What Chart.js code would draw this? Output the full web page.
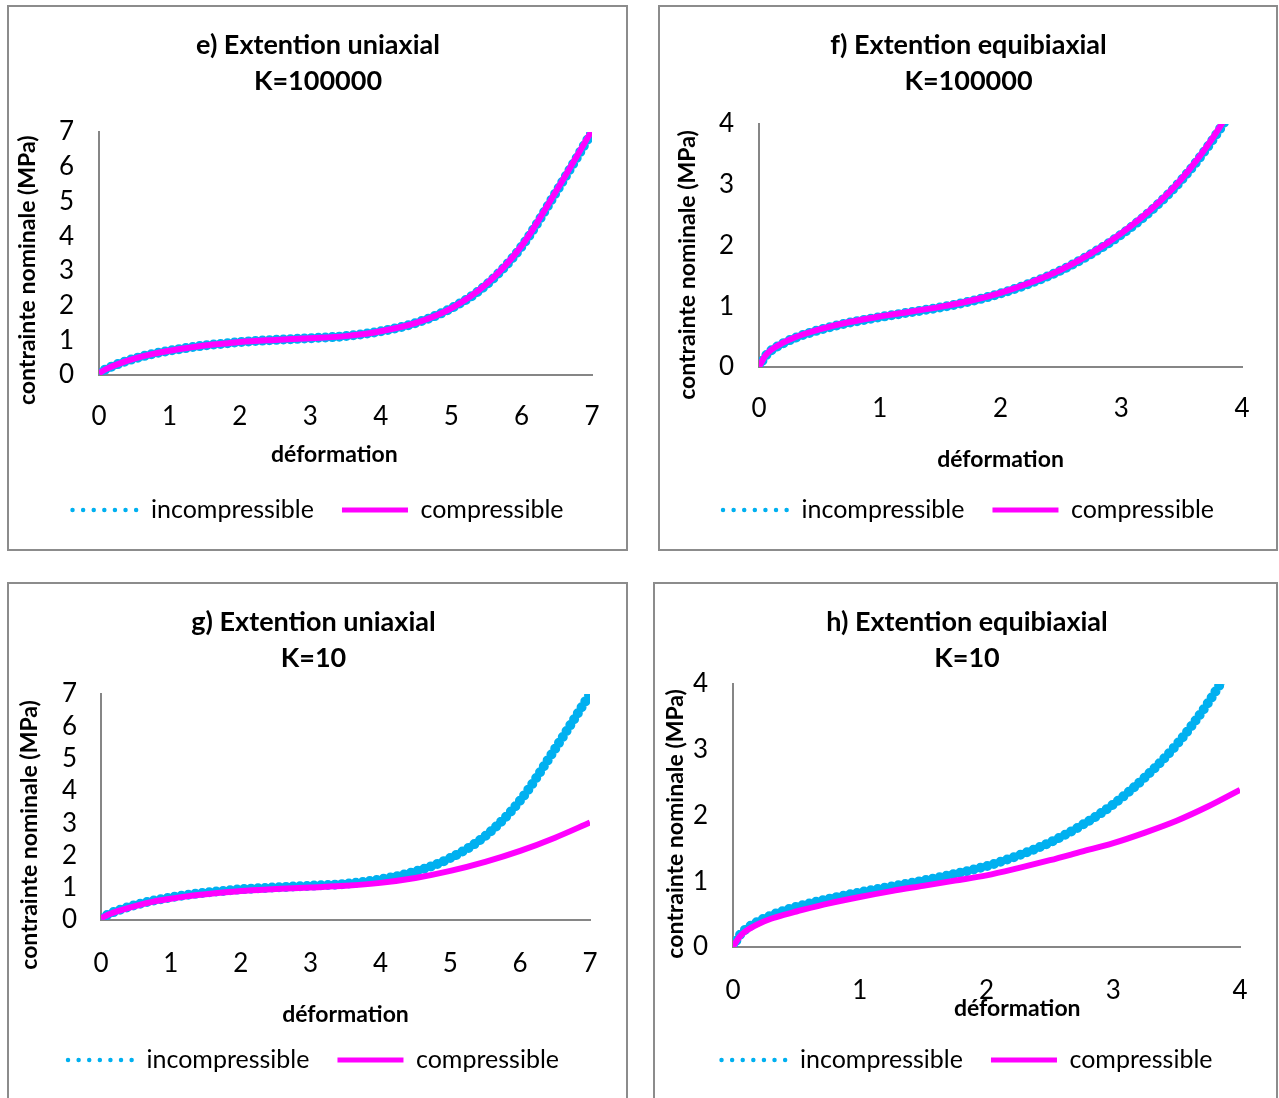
<!DOCTYPE html>
<html>
<head>
<meta charset="utf-8">
<script src="https://cdn.jsdelivr.net/npm/chart.js@4.4.1/dist/chart.umd.min.js"></script>
<style>
  body { margin: 0; background: #fff; width: 1279px; height: 1098px; overflow: hidden; position: relative; }
  .panel { position: absolute; border: 2px solid #8c8c8c; box-sizing: border-box; background: #fff; }
  .panel canvas { display: block; }
</style>
</head>
<body>
<div class="panel" style="left:7px;top:5px;width:621px;height:546px"><canvas id="chartE" width="617" height="542"></canvas></div>
<div class="panel" style="left:658px;top:5px;width:620px;height:546px"><canvas id="chartF" width="616" height="542"></canvas></div>
<div class="panel" style="left:7px;top:582px;width:621px;height:530px"><canvas id="chartG" width="617" height="526"></canvas></div>
<div class="panel" style="left:653px;top:582px;width:625px;height:530px"><canvas id="chartH" width="621" height="526"></canvas></div>
<script>
// deformation values (x)
const strainUni = [0, 0.1, 0.25, 0.5, 0.75, 1, 1.25, 1.5, 1.75, 2, 2.5, 3, 3.5, 4, 4.5, 5, 5.5, 6, 6.5, 7];
const strainBi = [0, 0.05, 0.1, 0.2, 0.3, 0.4, 0.5, 0.75, 1, 1.25, 1.5, 1.75, 2, 2.25, 2.5, 2.75, 3, 3.25, 3.5, 3.75, 4];

// e) uniaxial, K=100000
const uniIncK100000 = [0.05, 0.17, 0.3, 0.47, 0.6, 0.7, 0.78, 0.85, 0.9, 0.95, 1.01, 1.06, 1.12, 1.26, 1.5, 1.92, 2.6, 3.7, 5.3, 7.0];
const uniCompK100000 = [0.05, 0.17, 0.3, 0.47, 0.6, 0.7, 0.78, 0.85, 0.9, 0.95, 1.01, 1.06, 1.12, 1.26, 1.5, 1.92, 2.62, 3.72, 5.33, 7.05];

// f) equibiaxial, K=100000
const biIncK100000 = [0, 0.17, 0.27, 0.39, 0.48, 0.55, 0.61, 0.73, 0.82, 0.9, 0.98, 1.08, 1.21, 1.38, 1.59, 1.86, 2.18, 2.58, 3.08, 3.72, 4.5];
const biCompK100000 = [0, 0.18, 0.28, 0.4, 0.49, 0.56, 0.62, 0.74, 0.83, 0.91, 0.99, 1.09, 1.22, 1.39, 1.6, 1.87, 2.2, 2.6, 3.1, 3.75, 4.55];

// g) uniaxial, K=10
const uniIncK10 = [0.05, 0.17, 0.3, 0.47, 0.6, 0.7, 0.78, 0.85, 0.9, 0.95, 1.01, 1.06, 1.12, 1.26, 1.5, 1.92, 2.6, 3.7, 5.3, 7.0];
const uniCompK10 = [0.05, 0.16, 0.28, 0.44, 0.57, 0.66, 0.74, 0.8, 0.85, 0.9, 0.96, 1.01, 1.06, 1.15, 1.3, 1.52, 1.8, 2.14, 2.55, 3.02];

// h) equibiaxial, K=10
const biIncK10 = [0, 0.17, 0.27, 0.39, 0.48, 0.55, 0.61, 0.73, 0.83, 0.92, 1.01, 1.11, 1.23, 1.39, 1.59, 1.85, 2.17, 2.58, 3.08, 3.72, 4.5];
const biCompK10 = [0, 0.15, 0.24, 0.35, 0.43, 0.49, 0.54, 0.66, 0.76, 0.85, 0.93, 1.01, 1.09, 1.2, 1.32, 1.45, 1.58, 1.74, 1.92, 2.14, 2.39];

// tick labels
const uniTicks = [0, 1, 2, 3, 4, 5, 6, 7];
const biTicks = [0, 1, 2, 3, 4];

const seriesNames = ['incompressible', 'compressible'];
const xTitle = 'déformation';
const yTitle = 'contrainte nominale (MPa)';

Chart.defaults.color = '#000';
Chart.defaults.font.family = 'Lato';

const FONT = 'Lato';
const titleFont = { family: FONT, size: 27, weight: 'bold', lineHeight: 36 / 27 };
const tickFont = { family: FONT, size: 26, lineHeight: 1.2 };
const axisFont = { family: FONT, size: 23, weight: 'bold', lineHeight: 1.2 };
const legendFont = { family: FONT, size: 25 };
const AXIS = '#868686';
const LEGEND_GAP = 28;

function pairs(xs, ys) {
  return xs.map((x, i) => ({ x: x, y: ys[i] }));
}

// lay: target pixel positions inside the canvas
function makeChart(id, lay, title, xs, inc, comp, ticks) {
  const LT = titleFont.size * titleFont.lineHeight;
  const LS = tickFont.size * tickFont.lineHeight;
  const LA = axisFont.size * axisFont.lineHeight;
  const L = legendFont.size;
  const tTop = lay.titleY - LT / 2;
  const tBottom = lay.plotTop - tTop - 2 * LT;
  const tickPad = lay.tickY - lay.plotBottom - LS / 2;
  // scale height counts the tick padding twice
  const xtTop = lay.xTitleY - lay.plotBottom - 2 * tickPad - LS - LA / 2;
  const xtBottom = lay.legendY - lay.xTitleY - LA / 2 - L / 2 - LEGEND_GAP;
  const xBottom = lay.xTitleY + LA / 2 + xtBottom;
  const padBottom = lay.H - (xBottom + L + LEGEND_GAP + 10);
  const tickMax = ticks[ticks.length - 1];

  new Chart(document.getElementById(id), {
    type: 'line',
    data: {
      datasets: [{
        label: seriesNames[0],
        data: pairs(xs, inc),
        borderColor: '#00b0f0',
        backgroundColor: '#00b0f0',
        borderWidth: 10,
        borderDash: [0, 7],
        borderCapStyle: 'round',
        pointRadius: 0,
        cubicInterpolationMode: 'monotone',
        order: 1
      }, {
        label: seriesNames[1],
        data: pairs(xs, comp),
        borderColor: '#ff00ff',
        backgroundColor: '#ff00ff',
        borderWidth: 6,
        borderJoinStyle: 'round',
        pointRadius: 0,
        cubicInterpolationMode: 'monotone',
        order: 0
      }]
    },
    options: {
      responsive: false,
      animation: false,
      devicePixelRatio: 1,
      events: [],
      layout: { padding: { left: lay.padLeft, top: 0, right: lay.W - lay.plotRight, bottom: padBottom } },
      plugins: {
        tooltip: { enabled: false },
        title: {
          display: true,
          text: title,
          font: titleFont,
          color: '#000',
          padding: { top: tTop, bottom: tBottom }
        },
        legend: {
          position: 'bottom',
          labels: {
            usePointStyle: true,
            pointStyle: 'line',
            pointStyleWidth: 66,
            padding: LEGEND_GAP,
            font: legendFont,
            color: '#000',
            sort: (a, b) => a.datasetIndex - b.datasetIndex,
            generateLabels: chart => {
              const items = Chart.defaults.plugins.legend.labels.generateLabels(chart);
              items.forEach(it => {
                if (it.datasetIndex === 0) {
                  it.lineWidth = 4.5;
                  it.lineDash = [0, 10.6];
                  it.lineCap = 'round';
                } else {
                  it.lineWidth = 5;
                  it.lineDash = [];
                  it.lineCap = 'butt';
                }
              });
              return items;
            }
          }
        }
      },
      scales: {
        x: {
          type: 'linear',
          min: 0,
          max: tickMax,
          afterBuildTicks: s => { s.ticks = ticks.map(v => ({ value: v })); },
          grid: { display: false, drawTicks: false },
          border: { display: true, color: AXIS, width: 2 },
          ticks: { font: tickFont, color: '#000', padding: tickPad, maxRotation: 0, autoSkip: false },
          title: {
            display: true,
            text: ' '.repeat(lay.xPre) + xTitle + ' '.repeat(lay.xPost),
            font: axisFont,
            color: '#000',
            padding: { top: xtTop, bottom: xtBottom }
          }
        },
        y: {
          type: 'linear',
          min: 0,
          max: tickMax,
          afterBuildTicks: s => { s.ticks = ticks.map(v => ({ value: v })); },
          afterFit: s => { s.width = lay.plotLeft - lay.padLeft; },
          grid: { display: false, drawTicks: false },
          border: { display: true, color: AXIS, width: 2 },
          ticks: { font: tickFont, color: '#000', padding: lay.tickGap, autoSkip: false },
          title: {
            display: true,
            text: yTitle + ' '.repeat(lay.ySpaces),
            font: axisFont,
            color: '#000',
            padding: { top: lay.yTitleX - lay.padLeft - LA / 2, bottom: 0 }
          }
        }
      }
    }
  });
}

makeChart('chartE',
  { W: 617, H: 542, titleY: 38, plotTop: 125, plotBottom: 368, tickY: 410, xTitleY: 448, legendY: 503,
    plotLeft: 90, plotRight: 587, yTitleX: 19, tickGap: 25, ySpaces: 6, padLeft: 31, xPre: 0, xPost: 4 },
  ['e) Extention uniaxial', 'K=100000'], strainUni, uniIncK100000, uniCompK100000, uniTicks);

makeChart('chartF',
  { W: 616, H: 542, titleY: 38, plotTop: 117, plotBottom: 360, tickY: 402, xTitleY: 453, legendY: 503,
    plotLeft: 99, plotRight: 590, yTitleX: 28, tickGap: 25, ySpaces: 7, padLeft: 27, xPre: 0, xPost: 0 },
  ['f) Extention equibiaxial', 'K=100000'], strainBi, biIncK100000, biCompK100000, biTicks);

makeChart('chartG',
  { W: 617, H: 526, titleY: 38, plotTop: 110, plotBottom: 336, tickY: 380, xTitleY: 431, legendY: 476,
    plotLeft: 92, plotRight: 581, yTitleX: 21, tickGap: 24, ySpaces: 10, padLeft: 28, xPre: 0, xPost: 0 },
  ['g) Extention uniaxial', 'K=10'], strainUni, uniIncK10, uniCompK10, uniTicks);

makeChart('chartH',
  { W: 621, H: 526, titleY: 38, plotTop: 100, plotBottom: 363, tickY: 407, xTitleY: 425, legendY: 476,
    plotLeft: 78, plotRight: 587, yTitleX: 21, tickGap: 25, ySpaces: 3, padLeft: 37, xPre: 11, xPost: 0 },
  ['h) Extention equibiaxial', 'K=10'], strainBi, biIncK10, biCompK10, biTicks);
</script>
</body>
</html>
